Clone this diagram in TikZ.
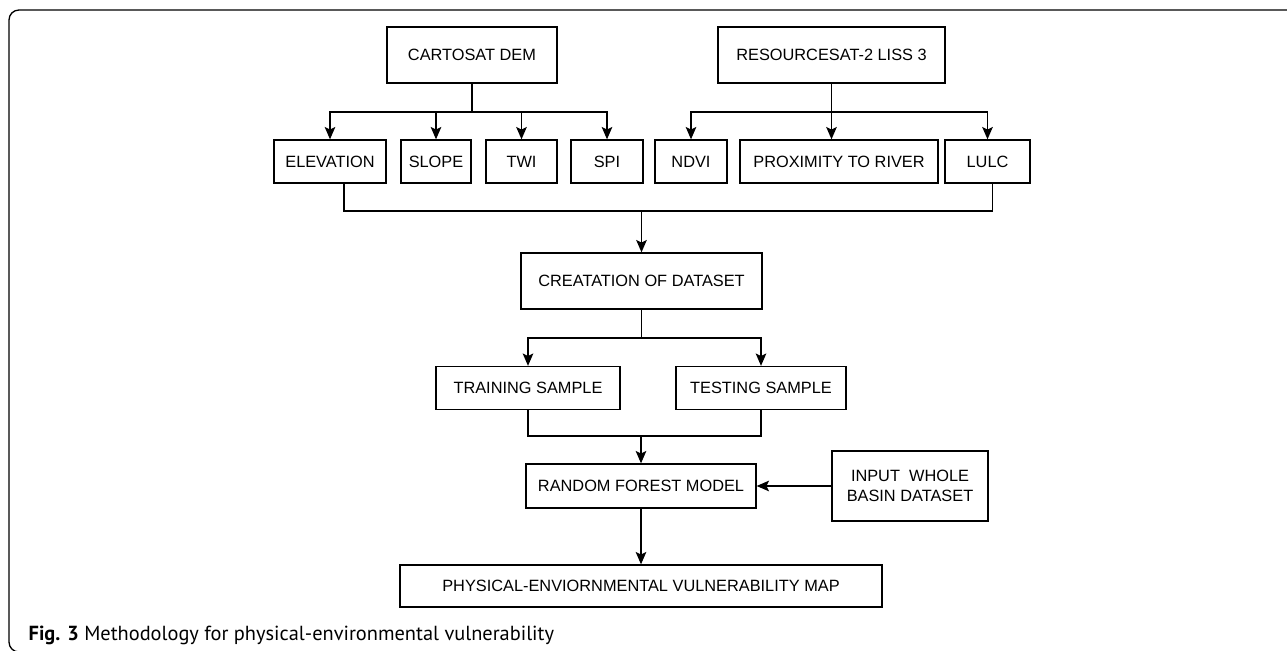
\documentclass[tikz,border=0pt]{standalone}
\usepackage{fontspec}
\setmainfont{Liberation Sans}
\newfontfamily\capfont{PT Sans}
\usetikzlibrary{arrows.meta}

\begin{document}
\begin{tikzpicture}[x=0.02cm,y=-0.02cm]
    \tikzstyle{every path}=[line width=0.75pt]
    \tikzstyle{block}=[draw, rectangle, inner sep=1pt, font=\fontsize{9.3}{11}\selectfont, minimum height=0.86cm]
    \tikzstyle{flow}=[-{Stealth[length=7pt,width=6pt,inset=1.4pt]}]

    % frame and caption
    \useasboundingbox (0,0) rectangle (1287,651);
    \draw[rounded corners=0.2cm] (1300,10) -- (9,10) -- (9,652) -- (1300,652);
    \node[anchor=west, inner sep=0, font=\capfont\fontsize{11.6}{13}\selectfont] (caption) at (28,635)
        {\textbf{Fig. 3} Methodology for physical-environmental vulnerability};

    % sources
    \node[block, minimum width=3.4cm, minimum height=1.12cm] (dem) at (472,55) {CARTOSAT DEM};
    \node[block, minimum width=4.54cm, minimum height=1.12cm] (liss) at (831.5,55) {RESOURCESAT-2 LISS 3};

    % factors
    \node[block, minimum width=2.24cm] (elev) at (330,161.5) {ELEVATION};
    \node[block, minimum width=1.40cm] (slope) at (436,161.5) {SLOPE};
    \node[block, minimum width=1.42cm] (twi) at (521.5,161.5) {TWI};
    \node[block, minimum width=1.44cm] (spi) at (607,161.5) {SPI};
    \node[block, minimum width=1.44cm] (ndvi) at (691,161.5) {NDVI};
    \node[block, minimum width=3.96cm] (prox) at (839,161.5) {PROXIMITY TO RIVER};
    \node[block, minimum width=1.70cm] (lulc) at (987.5,161.5) {LULC};

    % dataset and samples
    \node[block, minimum width=4.82cm, minimum height=1.12cm] (data) at (641.5,281) {CREATATION OF DATASET};
    \node[block, minimum width=3.68cm] (train) at (528,388) {TRAINING SAMPLE};
    \node[block, minimum width=3.40cm] (test) at (761,388) {TESTING SAMPLE};

    % model and output
    \node[block, minimum width=4.60cm, minimum height=0.88cm] (rf) at (641,486) {RANDOM FOREST MODEL};
    \node[block, minimum width=3.12cm, minimum height=1.40cm, align=center] (input) at (910,486) {INPUT\ \ WHOLE\\BASIN DATASET};
    \node[block, minimum width=9.64cm, minimum height=0.84cm] (map) at (641,586) {PHYSICAL-ENVIORNMENTAL VULNERABILITY MAP};

    % bus levels
    \coordinate (bus1) at (0,112);
    \coordinate (bus2) at (0,211);
    \coordinate (bus3) at (0,338);
    \coordinate (bus4) at (0,436);

    % dem to factors
    \draw[flow] (dem.south) -- (dem.south |- bus1) -| (elev.north);
    \draw[flow] (dem.south) -- (dem.south |- bus1) -| (slope.north);
    \draw[flow] (dem.south) -- (dem.south |- bus1) -| (twi.north);
    \draw[flow] (dem.south) -- (dem.south |- bus1) -| (spi.north);

    % liss to factors
    \draw[flow] (liss.south) -- (liss.south |- bus1) -| (ndvi.north);
    \draw[flow] (liss.south) -- (liss.south |- prox.north);
    \draw[flow] (liss.south) -- (liss.south |- bus1) -| (lulc.north);

    % factors to dataset
    \draw ([xshift=0.28cm]elev.south) -- ([xshift=0.28cm]elev.south |- bus2)
        -- ([xshift=0.1cm]lulc.south |- bus2) -- ([xshift=0.1cm]lulc.south);
    \draw[flow] (data.north |- bus2) -- (data.north);

    % dataset split
    \draw[flow] (data.south) -- (data.south |- bus3) -| (train.north);
    \draw[flow] (data.south) -- (data.south |- bus3) -| (test.north);

    % samples to model
    \draw (train.south) -- (train.south |- bus4) -- (test.south |- bus4) -- (test.south);
    \draw[flow] (rf.north |- bus4) -- (rf.north);
    \draw[flow] (input.west) -- (rf.east);
    \draw[flow] (rf.south) -- (map.north);

\end{tikzpicture}
\end{document}
